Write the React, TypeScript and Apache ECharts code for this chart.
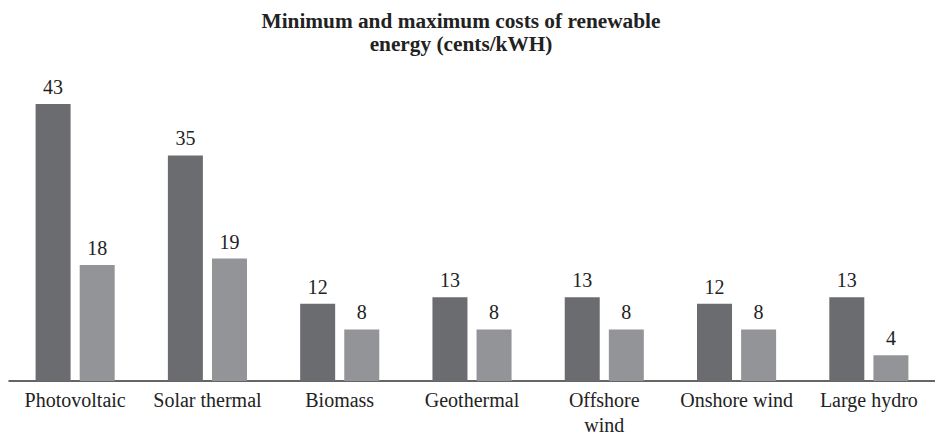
import React, { useEffect, useRef } from "react";
import * as echarts from "echarts";

const categories = ["Photovoltaic", "Solar thermal", "Biomass", "Geothermal", "Offshore\nwind", "Onshore wind", "Large hydro"];
const maxCosts = [43, 35, 12, 13, 13, 12, 13];
const minCosts = [18, 19, 8, 8, 8, 8, 4];

export default function App() {
  const ref = useRef<HTMLDivElement>(null);
  useEffect(() => {
    document.body.style.margin = "0";
    const chart = echarts.init(ref.current!, null, { renderer: "svg" });
    const font = "Liberation Serif";
    const label = { show: true, position: "top", distance: 7, color: "#222", fontSize: 20, fontFamily: font };
    chart.setOption({
      animation: false,
      title: {
        text: "Minimum and maximum costs of renewable\nenergy (cents/kWH)",
        left: 456,
        textAlign: "center",
        top: 4,
        textStyle: { fontFamily: font, fontWeight: "bold", fontSize: 21.3, color: "#222", lineHeight: 23 },
      },
      grid: { left: 9, right: 0, top: 91, bottom: 54 },
      xAxis: {
        type: "category",
        data: categories,
        axisLine: { lineStyle: { color: "#333", width: 1.5 } },
        axisTick: { show: false },
        axisLabel: { color: "#222", fontSize: 20, fontFamily: font, margin: 6, lineHeight: 25, interval: 0 },
      },
      yAxis: { type: "value", min: 0, max: 45, show: false, splitLine: { show: false } },
      series: [
        { type: "bar", data: maxCosts, barWidth: 35, barGap: "26%", itemStyle: { color: "#6b6c70" }, label },
        { type: "bar", data: minCosts, barWidth: 35, itemStyle: { color: "#939498" }, label },
      ],
    });
    return () => chart.dispose();
  }, []);
  return <div ref={ref} style={{ width: 935, height: 437 }} />;
}
